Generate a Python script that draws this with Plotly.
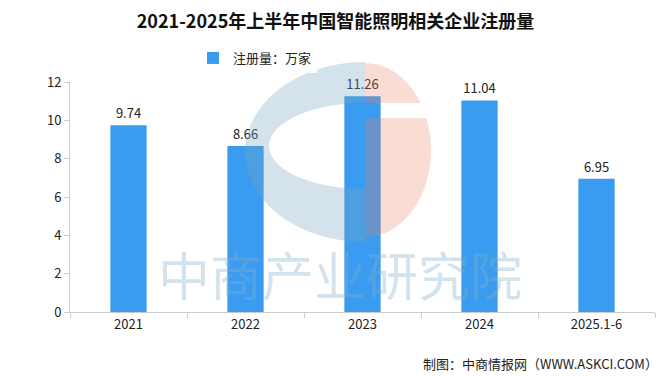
import math
import plotly.graph_objects as go

categories = ["2021", "2022", "2023", "2024", "2025.1-6"]
values = [9.74, 8.66, 11.26, 11.04, 6.95]
value_labels = ["9.74", "8.66", "11.26", "11.04", "6.95"]
y_ticks = [0, 2, 4, 6, 8, 10, 12]

font_family = "Noto Sans CJK SC, DejaVu Sans, sans-serif"
bar_color = "#3A9CF0"

W, H = 671, 376
ML, MR, MT, MB = 70, 16, 82, 64
PW, PH = W - ML - MR, H - MT - MB


def to_paper(px, py):
    return (px - ML) / PW, (H - MB - py) / PH


def path_from(points):
    pts = [to_paper(x, y) for x, y in points]
    return "M " + " L ".join(f"{x:.4f},{y:.4f}" for x, y in pts) + " Z"


def half_ellipse(cx, cy, rx, ry, a0, a1, n=40):
    out = []
    for i in range(n + 1):
        a = math.radians(a0 + (a1 - a0) * i / n)
        out.append((cx + rx * math.cos(a), cy - ry * math.sin(a)))
    return out


# watermark logo (decoration)
blue_pts = half_ellipse(365, 152, 120, 90, 90, 270) + half_ellipse(365, 146, 96, 43, 270, 90)


def ell_x(y, cx=365, cy=150, rx=66, ry=87):
    t = 1 - ((y - cy) / ry) ** 2
    return cx + rx * math.sqrt(max(t, 0))


top_piece = [(365, 63)] + [(ell_x(y), y) for y in range(64, 104)] + [(365, 103)]
bot_piece = [(365, 118)] + [(ell_x(y), y) for y in range(118, 238)] + [(365, 237)]

fig = go.Figure()
fig.add_trace(go.Bar(
    x=categories, y=values, name="注册量：万家",
    marker=dict(color=bar_color, line=dict(width=0)),
    text=value_labels, textposition="outside",
    textfont=dict(size=13, color="#222222", family=font_family),
    cliponaxis=False,
))

shapes = [
    dict(type="path", xref="paper", yref="paper", path=path_from(blue_pts),
         fillcolor="rgba(120,165,195,0.32)", line=dict(width=0), layer="above"),
    dict(type="path", xref="paper", yref="paper", path=path_from(top_piece),
         fillcolor="rgba(235,130,100,0.28)", line=dict(width=0), layer="above"),
    dict(type="path", xref="paper", yref="paper", path=path_from(bot_piece),
         fillcolor="rgba(235,130,100,0.28)", line=dict(width=0), layer="above"),
]

fig.update_layout(
    width=W, height=H,
    margin=dict(l=ML, r=MR, t=MT, b=MB, autoexpand=False),
    paper_bgcolor="white", plot_bgcolor="white",
    bargap=0.69,
    font=dict(family=font_family, size=13, color="#222222"),
    title=dict(text="<b>2021-2025年上半年中国智能照明相关企业注册量</b>",
               x=0.5, xanchor="center", y=1 - 22 / H, yanchor="middle",
               font=dict(size=18, color="#111111", family=font_family)),
    showlegend=True,
    legend=dict(orientation="h", x=(255 - ML) / PW, xanchor="center",
                y=(H - MB - 58) / PH, yanchor="middle",
                font=dict(size=13, color="#222222"), itemwidth=30),
    xaxis=dict(showline=True, linecolor="#cccccc", linewidth=1, ticks="outside",
               tickcolor="#cccccc", ticklen=5, tickson="boundaries",
               tickfont=dict(size=13, color="#222222"), showgrid=False),
    yaxis=dict(range=[0, 12], tickvals=y_ticks, showline=True, linecolor="#cccccc",
               linewidth=1, ticks="outside", tickcolor="#cccccc", ticklen=5,
               showgrid=False, zeroline=False,
               tickfont=dict(size=13, color="#222222")),
    shapes=shapes,
    annotations=[
        dict(text="中商产业研究院", xref="paper", yref="paper",
             x=(340 - ML) / PW, y=(H - MB - 273) / PH,
             xanchor="center", yanchor="middle", showarrow=False,
             font=dict(size=52, color="rgba(130,175,205,0.35)", family=font_family)),
        dict(text="制图：中商情报网（WWW.ASKCI.COM）", xref="paper", yref="paper",
             x=(660 - ML) / PW, y=(H - MB - 363) / PH, xanchor="right", yanchor="middle",
             showarrow=False,
             font=dict(size=13, color="#222222", family=font_family)),
    ],
)

fig.write_html("out.html", config={"displayModeBar": False},
               post_script="document.body.style.margin='0';")
